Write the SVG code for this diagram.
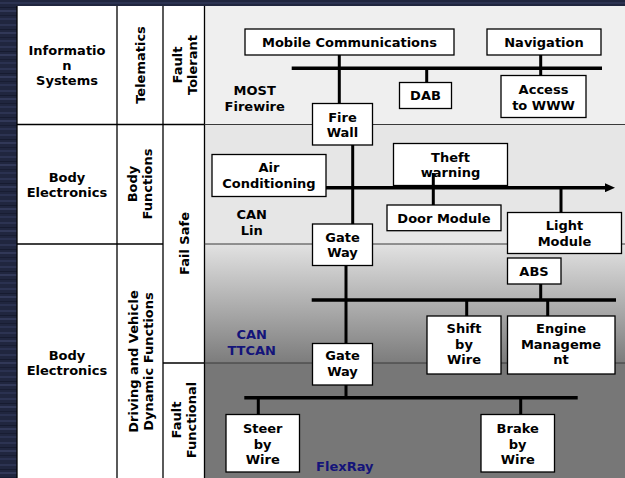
<svg xmlns="http://www.w3.org/2000/svg" width="625" height="478" viewBox="0 0 625 478">
  <defs>
    <!-- streaky navy backdrop -->
    <pattern id="bgGrain" width="40" height="22" patternUnits="userSpaceOnUse">
      <rect width="40" height="22" fill="#20263f"/>
      <rect y="2" width="40" height="2" fill="#2c3352"/>
      <rect y="7" width="40" height="1" fill="#161b30"/>
      <rect y="10" width="40" height="2" fill="#313858"/>
      <rect y="15" width="40" height="1" fill="#181d33"/>
      <rect y="18" width="40" height="2" fill="#2a3150"/>
    </pattern>
    <linearGradient id="band3" x1="0" y1="0" x2="0" y2="1">
      <stop offset="0" stop-color="#e2e2e2"/>
      <stop offset="1" stop-color="#7c7c7c"/>
    </linearGradient>
    <marker id="arrow" viewBox="0 0 10 9" refX="2" refY="4.5" markerWidth="10" markerHeight="9" markerUnits="userSpaceOnUse" orient="auto">
      <path d="M0,0 L10,4.5 L0,9 z" fill="#000"/>
    </marker>
    <style>
      .box { fill: #fff; stroke: #000; stroke-width: 1.3; }
      .t { font-family: "DejaVu Sans", Verdana, sans-serif; font-weight: bold; font-size: 13px; text-anchor: middle; fill: #000; }
      .navy { fill: #14147a; }
      .bus { stroke: #000; stroke-width: 3.5; fill: none; }
      .drop { stroke: #000; stroke-width: 3; fill: none; }
      .grid { stroke: #000; stroke-width: 1.3; }
      .sep { stroke: #3a3a3a; stroke-width: 1; }
    </style>
  </defs>

  <!-- backdrop -->
  <rect width="625" height="478" fill="url(#bgGrain)"/>

  <!-- classification table -->
  <g id="table">
    <rect x="17" y="6" width="188" height="472" fill="#fff"/>
    <rect x="204.5" y="6" width="421" height="118.5" fill="#efefef"/>
    <rect x="204.5" y="124.5" width="421" height="119.5" fill="#e6e6e6"/>
    <rect x="204.5" y="244" width="421" height="119" fill="url(#band3)"/>
    <rect x="204.5" y="363" width="421" height="115" fill="#777"/>
    <line class="grid" x1="17" y1="6" x2="17" y2="478"/>
    <line class="grid" x1="117" y1="6" x2="117" y2="478"/>
    <line class="grid" x1="163" y1="6" x2="163" y2="478"/>
    <line class="grid" x1="204.5" y1="6" x2="204.5" y2="478"/>
    <line class="grid" x1="17" y1="124.5" x2="204.5" y2="124.5"/>
    <line class="grid" x1="17" y1="244" x2="163" y2="244"/>
    <line class="grid" x1="163" y1="363" x2="204.5" y2="363"/>
    <line class="sep" x1="204.5" y1="124.5" x2="625" y2="124.5"/>
    <line class="sep" x1="204.5" y1="244" x2="625" y2="244"/>
    <line class="sep" x1="204.5" y1="363" x2="625" y2="363"/>

    <text class="t" x="67" y="55">Informatio</text>
    <text class="t" x="67" y="69.5">n</text>
    <text class="t" x="67" y="84.5">Systems</text>
    <text class="t" x="67" y="181.7">Body</text>
    <text class="t" x="67" y="196.7">Electronics</text>
    <text class="t" x="67" y="360">Body</text>
    <text class="t" x="67" y="375">Electronics</text>

    <text class="t" transform="translate(140,65) rotate(-90)" y="4.7">Telematics</text>
    <text class="t" transform="translate(140,184) rotate(-90)"><tspan x="0" y="-2.8">Body</tspan><tspan x="0" y="12.2">Functions</tspan></text>
    <text class="t" transform="translate(141,361.5) rotate(-90)"><tspan x="0" y="-2.8">Driving and Vehicle</tspan><tspan x="0" y="12.2">Dynamic Functions</tspan></text>
    <text class="t" transform="translate(184.5,65) rotate(-90)"><tspan x="0" y="-2.8">Fault</tspan><tspan x="0" y="12.2">Tolerant</tspan></text>
    <text class="t" transform="translate(184,243.5) rotate(-90)" y="4.7">Fail Safe</text>
    <text class="t" transform="translate(184,420) rotate(-90)"><tspan x="0" y="-2.8">Fault</tspan><tspan x="0" y="12.2">Functional</tspan></text>
  </g>

  <!-- bus names -->
  <g id="bus-labels">
    <text class="t" x="254.7" y="95">MOST</text>
    <text class="t" x="254.7" y="111">Firewire</text>
    <text class="t" x="251.7" y="219.3">CAN</text>
    <text class="t" x="251.7" y="235">Lin</text>
    <text class="t navy" x="251.7" y="339.3">CAN</text>
    <text class="t navy" x="251.7" y="355">TTCAN</text>
    <text class="t navy" x="344.8" y="471">FlexRay</text>
  </g>

  <!-- control units -->
  <g id="mobile-communications">
    <rect class="box" x="245" y="29" width="209" height="26"/>
    <text class="t" x="349.5" y="46.7">Mobile Communications</text>
  </g>
  <g id="navigation">
    <rect class="box" x="487" y="29" width="114" height="26"/>
    <text class="t" x="544" y="46.7">Navigation</text>
  </g>
  <g id="dab">
    <rect class="box" x="399.5" y="82.5" width="52" height="26"/>
    <text class="t" x="425.5" y="100">DAB</text>
  </g>
  <g id="access-www">
    <rect class="box" x="501" y="75.5" width="85" height="42"/>
    <text class="t" x="543.5" y="94.3">Access</text>
    <text class="t" x="543.5" y="110">to WWW</text>
  </g>
  <g id="fire-wall">
    <rect class="box" x="312.5" y="103.5" width="60" height="41.5"/>
    <text class="t" x="342.5" y="121.7">Fire</text>
    <text class="t" x="342.5" y="137.3">Wall</text>
  </g>
  <g id="air-conditioning">
    <rect class="box" x="212" y="154.5" width="114" height="42"/>
    <text class="t" x="269" y="172.3">Air</text>
    <text class="t" x="269" y="187.8">Conditioning</text>
  </g>
  <g id="theft-warning">
    <rect class="box" x="393.5" y="143.5" width="114" height="42"/>
    <text class="t" x="450.5" y="161.7">Theft</text>
    <text class="t" x="450.5" y="177.3">warning</text>
  </g>
  <g id="door-module">
    <rect class="box" x="387" y="205" width="114" height="25.7"/>
    <text class="t" x="444" y="222.7">Door Module</text>
  </g>
  <g id="light-module">
    <rect class="box" x="507.5" y="212.5" width="114" height="41"/>
    <text class="t" x="564.5" y="230">Light</text>
    <text class="t" x="564.5" y="245.5">Module</text>
  </g>
  <g id="gate-way-body">
    <rect class="box" x="312.5" y="224" width="60" height="41.5"/>
    <text class="t" x="342.5" y="241.7">Gate</text>
    <text class="t" x="342.5" y="257">Way</text>
  </g>
  <g id="abs">
    <rect class="box" x="507.5" y="258" width="53.5" height="26"/>
    <text class="t" x="534" y="275.5">ABS</text>
  </g>
  <g id="shift-by-wire">
    <rect class="box" x="427" y="316" width="74" height="58"/>
    <text class="t" x="464" y="333.3">Shift</text>
    <text class="t" x="464" y="348.5">by</text>
    <text class="t" x="464" y="364">Wire</text>
  </g>
  <g id="engine-management">
    <rect class="box" x="507.5" y="316" width="107.5" height="58"/>
    <text class="t" x="561" y="333.3">Engine</text>
    <text class="t" x="561" y="348.5">Manageme</text>
    <text class="t" x="561" y="364">nt</text>
  </g>
  <g id="gate-way-drive">
    <rect class="box" x="312.5" y="343.5" width="60" height="41.5"/>
    <text class="t" x="342.5" y="360">Gate</text>
    <text class="t" x="342.5" y="375.5">Way</text>
  </g>
  <g id="steer-by-wire">
    <rect class="box" x="226" y="414.5" width="73.5" height="57.5"/>
    <text class="t" x="262.7" y="433.3">Steer</text>
    <text class="t" x="262.7" y="448.5">by</text>
    <text class="t" x="262.7" y="463.7">Wire</text>
  </g>
  <g id="brake-by-wire">
    <rect class="box" x="481" y="414.5" width="73.5" height="57.5"/>
    <text class="t" x="517.7" y="433.3">Brake</text>
    <text class="t" x="517.7" y="448.5">by</text>
    <text class="t" x="517.7" y="463.7">Wire</text>
  </g>

  <!-- buses and stubs -->
  <g id="connectors">
    <line class="bus" x1="291.7" y1="68.3" x2="602" y2="68.3"/>
    <line class="drop" x1="339.3" y1="55" x2="339.3" y2="103.5"/>
    <line class="drop" x1="426.7" y1="68.3" x2="426.7" y2="82.5"/>
    <line class="drop" x1="540.7" y1="55" x2="540.7" y2="75.5"/>
    <line class="drop" x1="352.7" y1="145" x2="352.7" y2="224"/>
    <line class="bus" x1="326" y1="187.7" x2="607" y2="187.7" marker-end="url(#arrow)"/>
    <line class="drop" x1="433.3" y1="173" x2="433.3" y2="205"/>
    <line class="drop" x1="561" y1="187.7" x2="561" y2="212.5"/>
    <line class="drop" x1="346" y1="265.5" x2="346" y2="343.5"/>
    <line class="bus" x1="311.7" y1="300" x2="616" y2="300"/>
    <line class="drop" x1="540.7" y1="284" x2="540.7" y2="300"/>
    <line class="drop" x1="466.7" y1="300" x2="466.7" y2="316"/>
    <line class="drop" x1="547.7" y1="300" x2="547.7" y2="316"/>
    <line class="drop" x1="346" y1="385" x2="346" y2="397.7"/>
    <line class="bus" x1="244.3" y1="397.7" x2="577.7" y2="397.7"/>
    <line class="drop" x1="258.3" y1="397.7" x2="258.3" y2="414.5"/>
    <line class="drop" x1="520.7" y1="397.7" x2="520.7" y2="414.5"/>
  </g>
</svg>
